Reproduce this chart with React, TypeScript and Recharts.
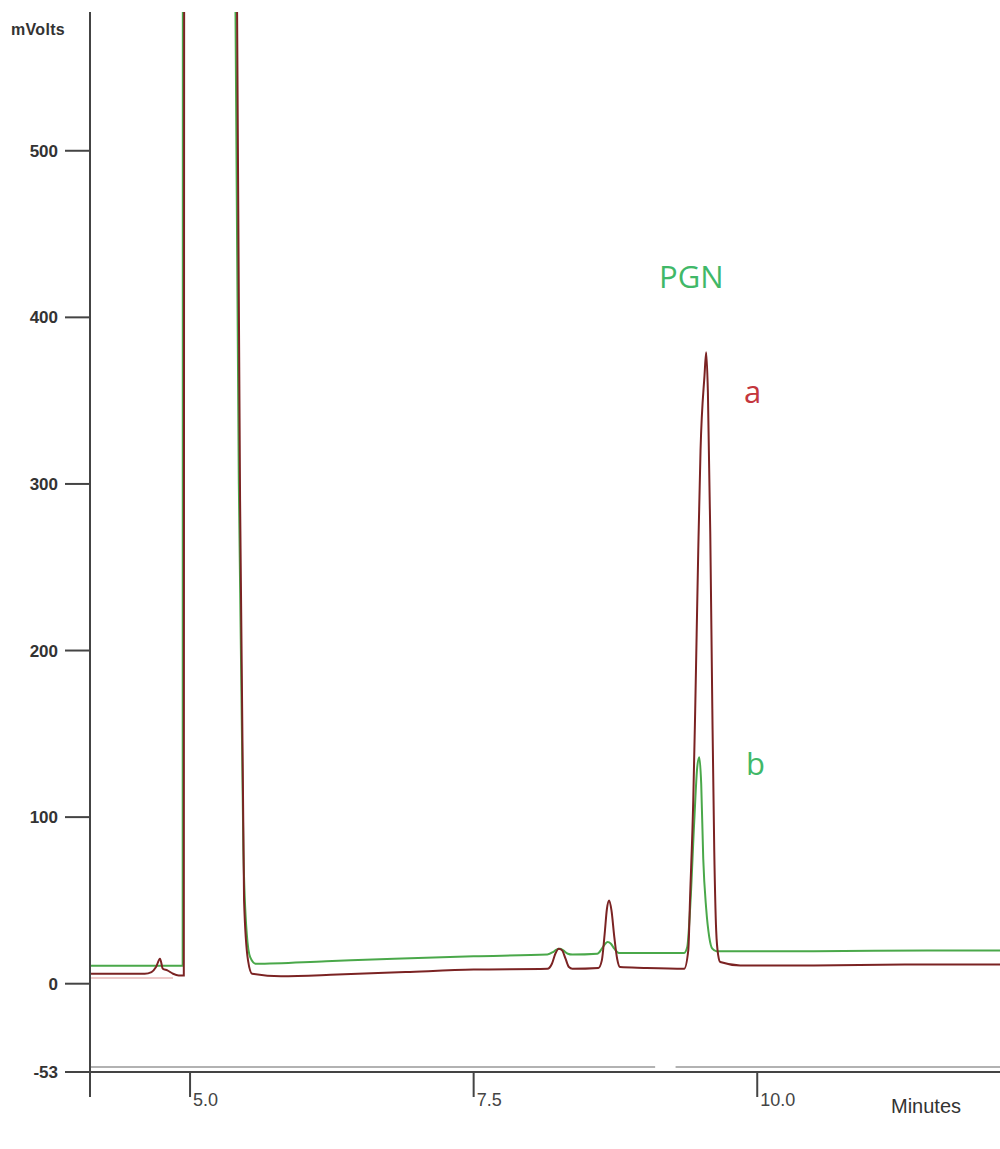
import React from 'react';
import { LineChart, Line, XAxis, YAxis, ReferenceLine } from 'recharts';

// retention time (min) / detector signal (mV)
const TIME_A = [
  4.12, 4.6, 4.66, 4.7, 4.735, 4.76, 4.8, 4.85, 4.9, 4.945, 4.955, 5.2, 5.414, 5.441, 5.476,
  5.511, 5.547, 5.8, 6.3, 6.9, 7.5, 8.15, 8.19, 8.22, 8.25, 8.28, 8.31, 8.34, 8.37,
  8.6, 8.63, 8.655, 8.675, 8.695, 8.715, 8.74, 8.765, 8.79, 9.0,
  9.356, 9.392, 9.409, 9.436, 9.453, 9.48, 9.5, 9.535, 9.55, 9.565, 9.586,
  9.604, 9.621, 9.638, 9.656, 9.674, 9.85, 10.5, 11.3, 12.14,
];
const SIGNAL_A = [
  6, 6, 7, 10, 15, 9, 8, 6, 5, 5, 2000, 2000, 590, 290, 50,
  14, 6, 4.5, 5.5, 7, 8.5, 9, 12, 18, 21, 20, 15, 10, 9,
  9.5, 14, 30, 45, 50, 44, 28, 15, 10, 9.5,
  9, 20, 54, 110, 164, 260, 320, 365, 379, 355, 270,
  165, 80, 32, 17, 13, 11, 11, 11.5, 11.5,
];

const TIME_B = [
  4.12, 4.935, 4.94, 5.2, 5.4, 5.43, 5.47, 5.5, 5.53, 5.58, 6.2, 6.8, 7.5,
  8.15, 8.2, 8.23, 8.26, 8.29, 8.33, 8.37,
  8.59, 8.63, 8.66, 8.68, 8.71, 8.74, 8.78, 9.0,
  9.356, 9.383, 9.409, 9.445, 9.471, 9.489,
  9.506, 9.524, 9.55, 9.577, 9.604, 9.64, 10.5, 11.5, 12.14,
];
const SIGNAL_B = [
  10.8, 10.8, 2000, 2000, 590, 300, 80, 30, 16, 12, 13.5, 15, 16.5,
  17.5, 19, 20.5, 21, 20, 18, 17.5,
  18, 21, 24, 25, 24, 21, 18.5, 18.5,
  18.5, 22, 46, 98, 130, 136,
  120, 75, 45, 28, 21, 19.5, 19.5, 20, 20,
];

const TIME_BLANK = [4.12, 4.85];
const SIGNAL_BLANK = [3.5, 3.5];

const Y_TICKS = [-53, 0, 100, 200, 300, 400, 500];
const X_TICKS = [4.118, 5, 7.5, 10];

const zip = (t: number[], v: number[]) => t.map((x, i) => ({ t: x, v: v[i] }));

const traceA = zip(TIME_A, SIGNAL_A);
const traceB = zip(TIME_B, SIGNAL_B);
const blank = zip(TIME_BLANK, SIGNAL_BLANK);

const XTick = (props: any) => {
  const { x, y, payload } = props;
  if (payload.value < 4.5) return null;
  return (
    <text x={x + 3} y={y + 9} fontSize={18} fill="#444" fontFamily="Liberation Sans, Arial, sans-serif">
      {payload.value.toFixed(1)}
    </text>
  );
};

export default function App() {
  return (
    <div style={{ position: 'absolute', left: 0, top: 0, width: 1000, height: 1149, background: '#fff' }}>
      <LineChart width={1000} height={1149} margin={{ top: 12, right: 0, bottom: 0, left: 0 }}>
        <XAxis
          type="number"
          dataKey="t"
          domain={[4.118, 12.14]}
          allowDataOverflow
          ticks={X_TICKS}
          tick={<XTick />}
          tickSize={25}
          tickMargin={0}
          height={77}
          axisLine={{ stroke: '#444', strokeWidth: 2 }}
          tickLine={{ stroke: '#444', strokeWidth: 2 }}
        />
        <YAxis
          type="number"
          dataKey="v"
          domain={[-53, 583.3]}
          allowDataOverflow
          ticks={Y_TICKS}
          width={90}
          tickSize={25}
          tickMargin={7}
          axisLine={{ stroke: '#444', strokeWidth: 2 }}
          tickLine={{ stroke: '#444', strokeWidth: 2 }}
          tick={{ fontSize: 17, fontWeight: 700, fill: '#333', fontFamily: 'Liberation Sans, Arial, sans-serif' }}
        />
        <ReferenceLine
          segment={[{ x: 4.118, y: -50 }, { x: 9.1, y: -50 }]}
          stroke="#999"
          strokeWidth={1.5}
        />
        <ReferenceLine
          segment={[{ x: 9.28, y: -50 }, { x: 12.14, y: -50 }]}
          stroke="#999"
          strokeWidth={1.5}
        />
        <Line data={blank} dataKey="v" type="linear" stroke="#e9b9b9" strokeWidth={1.5} dot={false} isAnimationActive={false} />
        <Line data={traceB} dataKey="v" type="monotone" stroke="#4aa84a" strokeWidth={2} dot={false} isAnimationActive={false} />
        <Line data={traceA} dataKey="v" type="monotone" stroke="#7b2323" strokeWidth={2} dot={false} isAnimationActive={false} />
      </LineChart>
      <svg width={1000} height={1149} style={{ position: 'absolute', left: 0, top: 0, pointerEvents: 'none' }}>
        <text x={11} y={35} fontSize={16} fontWeight={700} fill="#333" letterSpacing={0.3} fontFamily="Liberation Sans, Arial, sans-serif">
          mVolts
        </text>
        <text x={891} y={1113} fontSize={20} fill="#333" fontFamily="Liberation Sans, Arial, sans-serif">
          Minutes
        </text>
        <text x={659} y={288} fontSize={31} fill="#40b868" fontFamily="Open Sans, sans-serif">
          PGN
        </text>
        <text x={744} y={403} fontSize={31} fill="#c4373d" fontFamily="Open Sans, sans-serif">
          a
        </text>
        <text x={746} y={775} fontSize={31} fill="#40b868" fontFamily="Open Sans, sans-serif">
          b
        </text>
      </svg>
    </div>
  );
}
